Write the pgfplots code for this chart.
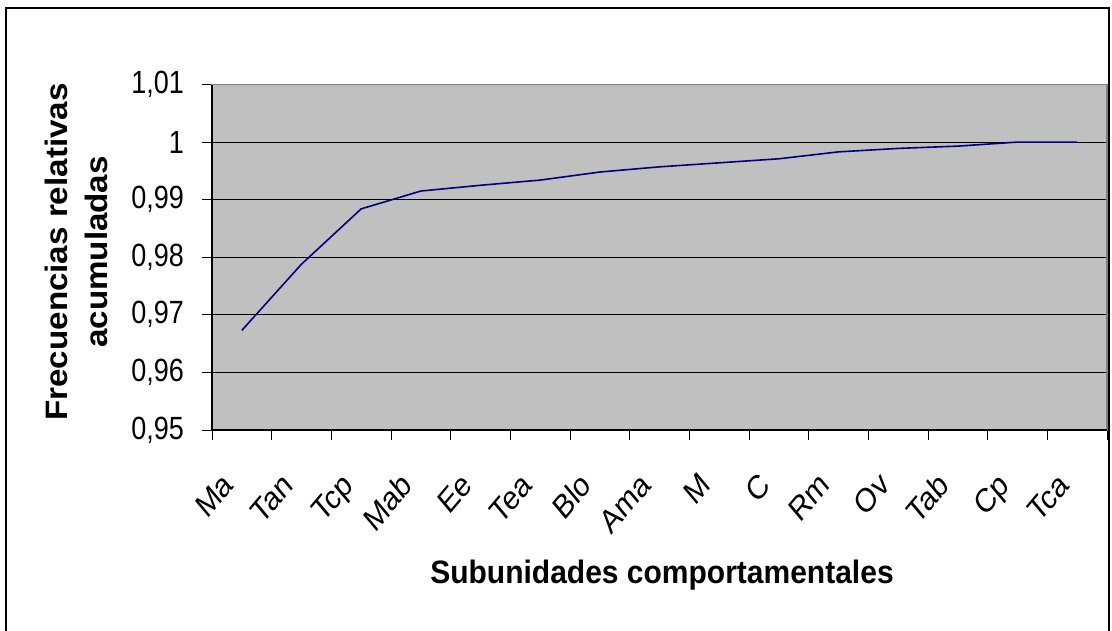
\documentclass[border=0pt]{standalone}
\usepackage{fontspec}
\setmainfont{Liberation Sans}
\usepackage{graphicx}
\usepackage{pgfplots}
\pgfplotsset{compat=1.18}
\definecolor{plotbg}{HTML}{C0C0C0}
\definecolor{navyline}{HTML}{000080}
\definecolor{frameg}{HTML}{808080}
\begin{document}
\begin{tikzpicture}[x=1pt,y=1pt]
\useasboundingbox (0,0) rectangle (1112,630);
\draw[line width=1.5pt] (6,-20) -- (6,622) -- (1109,622) -- (1109,-20);
\begin{axis}[
  at={(212pt,200pt)}, anchor=south west,
  scale only axis, width=895pt, height=345.5pt,
  xmin=0.5, xmax=15.5, ymin=0.95, ymax=1.01,
  axis background/.style={fill=plotbg},
  axis line style={draw=frameg, line width=1.5pt},
  xtick={1,...,15},
  xticklabels={Ma,Tan,Tcp,Mab,Ee,Tea,Blo,Ama,M,C,Rm,Ov,Tab,Cp,Tca},
  major x tick style={draw=none},
  minor xtick={0.5,1.5,...,15.5},
  ytick={0.95,0.96,0.97,0.98,0.99,1,1.01},
  yticklabels={{0,95},{0,96},{0,97},{0,98},{0,99},{1},{1,01}},
  ymajorgrids,
  major grid style={black, line width=0.9pt},
  tick align=outside, tick pos=left,
  major tick length=10pt, minor tick length=10pt,
  every tick/.style={black, line width=1pt},
  xticklabel style={font=\fontsize{28}{34}\selectfont, inner sep=0pt, anchor=base east, xshift=-7pt, yshift=-47pt, yscale=1.19, rotate=45},
  yticklabel style={font=\fontsize{27}{32}\selectfont, inner sep=0pt, anchor=east, xshift=-18pt, yscale=1.19},
  clip=false,
]
\addplot[navyline, line width=1.6pt] coordinates {
(1,0.9673) (2,0.9788) (3,0.9884) (4,0.9915) (5,0.9925) (6,0.9934)
(7,0.9948) (8,0.9957) (9,0.9964) (10,0.9971) (11,0.9983) (12,0.9989)
(13,0.9993) (14,1.0) (15,1.0)
};
\draw[black, line width=1.5pt] (rel axis cs:0,1) -- (rel axis cs:0,0) -- (rel axis cs:1,0);
\end{axis}
\node[rotate=90, align=center, font=\bfseries\fontsize{31}{40}\selectfont] at (76,378)
  {\scalebox{1.07}[1]{Frecuencias relativas}\\ \scalebox{1.07}[1]{acumuladas}};
\node[anchor=base, font=\bfseries\fontsize{30}{36}\selectfont, yscale=1.08] at (662,47) {Subunidades comportamentales};
\end{tikzpicture}
\end{document}
